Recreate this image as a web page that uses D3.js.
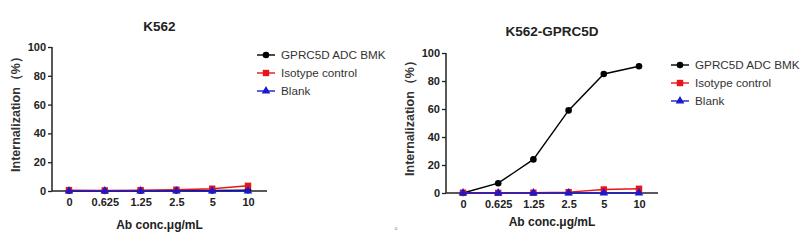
<!DOCTYPE html>
<html>
<head>
<meta charset="utf-8">
<script src="https://cdn.jsdelivr.net/npm/d3@7"></script>
<style>
  body { margin: 0; background: #fff; }
  text { font-family: "Liberation Sans", Arial, sans-serif; }
</style>
</head>
<body>
<div id="chart"></div>
<script>
// concentrations (categorical x axis)
const conc = ["0", "0.625", "1.25", "2.5", "5", "10"];
const seriesNames = ["GPRC5D ADC BMK", "Isotype control", "Blank"];
const seriesColors = ["#000000", "#e8141c", "#1a1acc"];
const yTicks = [0, 20, 40, 60, 80, 100];

// K562
const k562_bmk = [0.2, 0.1, 0.2, 0.3, 0.3, 0.5];
const k562_iso = [0.6, 0.4, 0.6, 0.9, 1.6, 3.6];
const k562_blank = [0, 0, 0, 0, 0, 0];

// K562-GPRC5D
const gprc_bmk = [0, 7, 24, 59, 85, 90.5];
const gprc_iso = [0.2, 0.1, 0.2, 0.6, 2.5, 3.0];
const gprc_blank = [0, 0, 0, 0, 0, 0];

const svg = d3.select("#chart").append("svg")
    .attr("width", 807).attr("height", 247);

function drawPanel(opt) {
    const g = svg.append("g");
    const x = d3.scalePoint().domain(conc).range([opt.x0 + 17, opt.x1 - 19]);
    const y = d3.scaleLinear().domain([0, 100]).range([opt.y0, opt.y1]);

    // y axis
    const ya = g.append("g").attr("transform", `translate(${opt.x0},0)`)
        .call(d3.axisLeft(y).tickValues(yTicks).tickSize(4).tickPadding(2));
    ya.select(".domain").attr("d", `M0,${opt.y1}V${opt.y0}`).attr("stroke", "#222").attr("stroke-width", 1.5);
    ya.selectAll(".tick line").attr("stroke", "#222").attr("stroke-width", 1.3);
    ya.selectAll(".tick text").attr("font-size", 11).attr("font-weight", "bold").attr("fill", "#222");

    // x axis
    const xa = g.append("g").attr("transform", `translate(0,${opt.y0})`)
        .call(d3.axisBottom(x).tickSize(0).tickPadding(7));
    xa.select(".domain").attr("d", `M${opt.x0},0H${opt.x1}`).attr("stroke", "#222").attr("stroke-width", 1.5);
    xa.selectAll(".tick text").attr("font-size", 11).attr("font-weight", "bold").attr("fill", "#222");

    // titles
    g.append("text").attr("x", (opt.x0 + opt.x1) / 2).attr("y", opt.titleY)
        .attr("text-anchor", "middle").attr("font-size", 13.5).attr("font-weight", "bold").attr("fill", "#222")
        .text(opt.title);
    g.append("text").attr("x", (opt.x0 + opt.x1) / 2).attr("y", opt.y0 + opt.xtDy)
        .attr("text-anchor", "middle").attr("font-size", 12).attr("font-weight", "bold").attr("fill", "#222")
        .text("Ab conc.μg/mL");
    g.append("text")
        .attr("transform", `translate(${opt.x0 - 32},${(opt.y0 + opt.y1) / 2 - 8}) rotate(-90)`)
        .attr("text-anchor", "middle").attr("font-size", 12.5).attr("font-weight", "bold").attr("fill", "#333")
        .text("Internalization（%）");

    const line = d3.line().x((d, i) => x(conc[i])).y(d => y(d));
    opt.data.forEach((vals, s) => {
        g.append("path").datum(vals).attr("d", line)
            .attr("fill", "none").attr("stroke", seriesColors[s]).attr("stroke-width", 1.4);
        drawMarkers(g, s, vals.map((v, i) => [x(conc[i]), y(v)]));
    });

    // legend
    seriesNames.forEach((name, s) => {
        const ly = opt.legY + s * 18;
        g.append("line").attr("x1", opt.legX - 9).attr("x2", opt.legX + 9)
            .attr("y1", ly).attr("y2", ly).attr("stroke", seriesColors[s]).attr("stroke-width", 1.4);
        drawMarkers(g, s, [[opt.legX, ly]]);
        g.append("text").attr("x", opt.legX + 15).attr("y", ly).attr("dy", "0.35em")
            .attr("font-size", 11.7).attr("fill", "#333").text(name);
    });
}

function drawMarkers(g, s, pts) {
    const c = seriesColors[s];
    if (s === 0) {
        g.selectAll(null).data(pts).enter().append("circle")
            .attr("cx", d => d[0]).attr("cy", d => d[1]).attr("r", 3.3).attr("fill", c);
    } else if (s === 1) {
        g.selectAll(null).data(pts).enter().append("rect")
            .attr("x", d => d[0] - 3.2).attr("y", d => d[1] - 3.2)
            .attr("width", 6.4).attr("height", 6.4).attr("fill", c);
    } else {
        const tri = d3.symbol().type(d3.symbolTriangle).size(32);
        g.selectAll(null).data(pts).enter().append("path")
            .attr("d", tri).attr("transform", d => `translate(${d[0]},${d[1]})`).attr("fill", c);
    }
}

drawPanel({
    title: "K562", x0: 52, x1: 267, y0: 191, y1: 47, titleY: 31, xtDy: 38,
    legX: 266, legY: 55,
    data: [k562_bmk, k562_iso, k562_blank]
});
drawPanel({
    title: "K562-GPRC5D", x0: 446, x1: 658, y0: 193, y1: 53, titleY: 36, xtDy: 33,
    legX: 680, legY: 65,
    data: [gprc_bmk, gprc_iso, gprc_blank]
});

svg.append("text").attr("x", 396).attr("y", 234).attr("text-anchor", "middle")
    .attr("font-size", 9).attr("fill", "#888").text("°");
</script>
</body>
</html>
